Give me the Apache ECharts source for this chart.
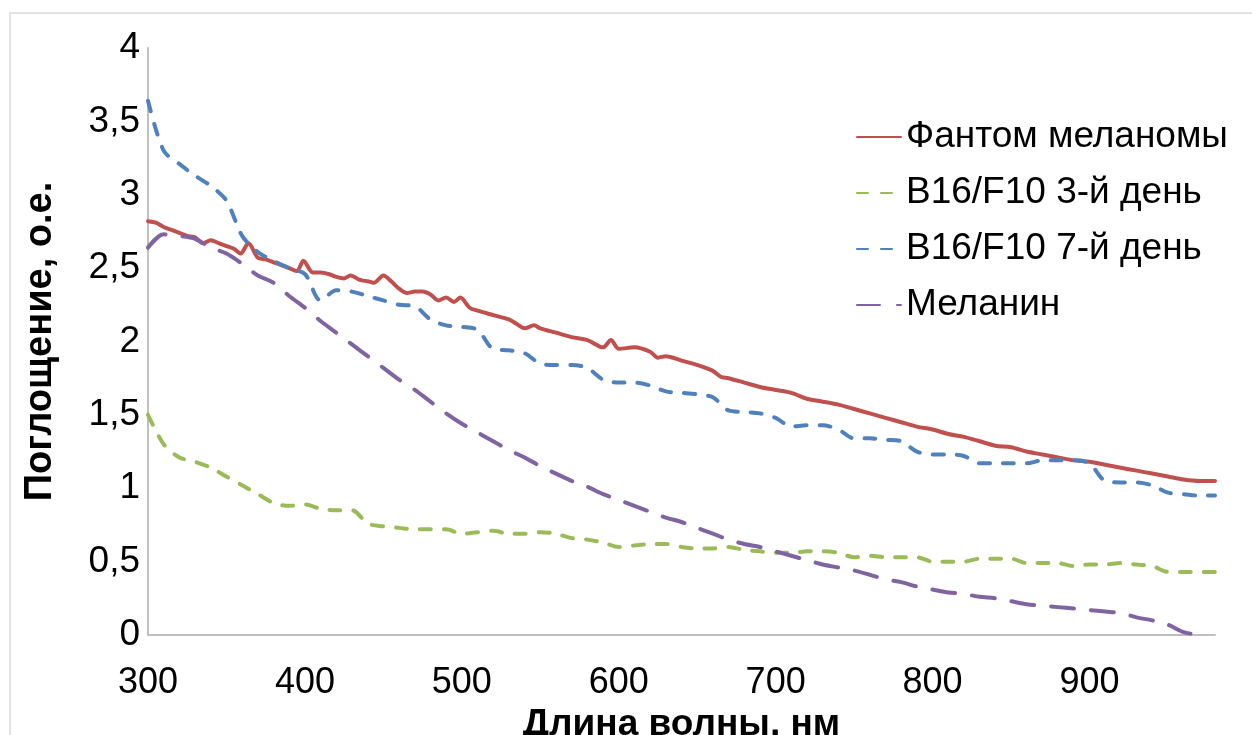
<!DOCTYPE html>
<html>
<head>
<meta charset="utf-8">
<script src="https://cdn.jsdelivr.net/npm/echarts@6/dist/echarts.min.js"></script>
<style>
html,body{margin:0;padding:0;background:#fff;}
#chart{width:1252px;height:735px;}
</style>
</head>
<body>
<div id="chart"></div>
<script>
// ---- data ----
const seriesNames = ['Фантом меланомы', 'B16/F10 3-й день', 'B16/F10 7-й день', 'Меланин'];
const xTicks = [300, 400, 500, 600, 700, 800, 900];

const redWavelengths = [300,305,310,315,320,325,330,335,340,345,350,355,359,364,370,375,380,385,390,395,399,405,410,415,420,425,429,435,440,444,450,455,460,465,470,475,480,485,490,495,499,505,510,520,530,535,540,546,550,560,570,580,590,595,600,610,620,625,630,640,650,660,665,670,680,690,700,710,720,730,740,750,760,770,780,790,800,810,820,830,840,850,860,870,880,890,900,910,920,930,940,950,960,970,980];
const phantom = [2.82,2.81,2.78,2.76,2.74,2.72,2.71,2.67,2.69,2.67,2.65,2.63,2.60,2.67,2.57,2.56,2.54,2.52,2.50,2.48,2.55,2.47,2.47,2.46,2.44,2.43,2.45,2.42,2.41,2.40,2.45,2.41,2.36,2.33,2.34,2.34,2.32,2.28,2.30,2.27,2.30,2.23,2.21,2.18,2.15,2.12,2.09,2.11,2.09,2.06,2.03,2.01,1.96,2.01,1.95,1.96,1.93,1.89,1.90,1.87,1.84,1.80,1.76,1.75,1.72,1.69,1.67,1.65,1.61,1.59,1.57,1.54,1.51,1.48,1.45,1.42,1.40,1.37,1.35,1.32,1.29,1.28,1.25,1.23,1.21,1.19,1.18,1.16,1.14,1.12,1.10,1.08,1.06,1.05,1.05];

const wavelengths = [300,310,320,330,340,350,360,370,380,390,400,410,420,430,440,450,460,470,480,490,500,510,520,530,540,550,560,570,580,590,600,610,620,630,640,650,660,670,680,690,700,710,720,730,740,750,760,770,780,790,800,810,820,830,840,850,860,870,880,890,900,910,920,930,940,950,960,970,980];
const day3 = [1.50,1.30,1.21,1.18,1.14,1.08,1.02,0.96,0.90,0.88,
              0.89,0.86,0.85,0.85,0.76,0.74,0.73,0.72,0.72,0.72,
              0.69,0.70,0.71,0.69,0.69,0.70,0.69,0.66,0.65,0.63,
              0.60,0.61,0.62,0.62,0.60,0.59,0.59,0.60,0.58,0.57,
              0.56,0.56,0.57,0.57,0.56,0.53,0.54,0.53,0.53,0.53,
              0.50,0.50,0.50,0.52,0.52,0.52,0.49,0.49,0.49,0.47,
              0.48,0.48,0.49,0.48,0.47,0.43,0.43,0.43,0.43];
const day7 = [3.64,3.30,3.21,3.13,3.06,2.96,2.72,2.61,2.55,2.50,
              2.46,2.28,2.35,2.34,2.31,2.28,2.25,2.24,2.15,2.11,
              2.10,2.08,1.95,1.94,1.92,1.85,1.84,1.84,1.82,1.74,
              1.72,1.72,1.70,1.66,1.65,1.64,1.62,1.53,1.52,1.51,
              1.48,1.42,1.43,1.43,1.40,1.34,1.34,1.33,1.32,1.25,
              1.23,1.23,1.22,1.17,1.17,1.17,1.17,1.19,1.19,1.19,
              1.17,1.05,1.04,1.04,1.02,0.97,0.96,0.95,0.95];
const melanin = [2.64,2.73,2.72,2.70,2.64,2.60,2.53,2.45,2.40,2.31,
                 2.23,2.14,2.06,1.98,1.90,1.82,1.74,1.67,1.59,1.51,
                 1.44,1.38,1.32,1.26,1.21,1.15,1.10,1.05,1.01,0.96,
                 0.92,0.88,0.84,0.80,0.77,0.73,0.69,0.65,0.62,0.60,
                 0.57,0.54,0.51,0.48,0.46,0.44,0.41,0.38,0.36,0.33,
                 0.31,0.29,0.28,0.26,0.25,0.23,0.21,0.20,0.19,0.18,
                 0.17,0.16,0.15,0.12,0.10,0.07,0.02,0.00,null];

const colors = ['#C0504D', '#9BBB59', '#4F81BD', '#8064A2'];
// ---- chart ----
const FONT = "'Liberation Sans', Arial, sans-serif";
const pairs = (xs, ys) => xs.map((x, i) => [x, ys[i]]).filter(p => p[1] !== null);

const chart = echarts.init(document.getElementById('chart'), null, {renderer: 'canvas'});
const mk = (name, xs, ys, color, dash) => ({
  name, type: 'line', data: pairs(xs, ys), showSymbol: false, symbol: 'none', smooth: 0.3,
  lineStyle: {color, width: 4, type: dash, cap: 'round', join: 'round'},
  itemStyle: {color}
});

chart.setOption({
  animation: false,
  backgroundColor: '#fff',
  color: colors,
  grid: {left: 148, right: 37, top: 48, bottom: 100, containLabel: false, outerBoundsMode: 'none'},
  graphic: [{type: 'rect', shape: {x: 10, y: 13, width: 1300, height: 800},
             style: {fill: 'none', stroke: '#D9D9D9', lineWidth: 1.5}, silent: true}],
  xAxis: {
    type: 'value', min: 300, max: 980, interval: 100,
    name: 'Длина волны, нм', nameLocation: 'middle', nameGap: 62,
    nameTextStyle: {fontFamily: FONT, fontSize: 37, fontWeight: 'bold', color: '#000'},
    axisLine: {show: true, lineStyle: {color: '#BFBFBF', width: 2}},
    axisTick: {show: false}, splitLine: {show: false},
    axisLabel: {fontFamily: FONT, fontSize: 36, color: '#000', margin: 30, showMaxLabel: false}
  },
  yAxis: {
    type: 'value', min: 0, max: 4, interval: 0.5,
    name: 'Поглощение, о.е.', nameLocation: 'middle', nameGap: 88, nameRotate: 90,
    nameTextStyle: {fontFamily: FONT, fontSize: 38, fontWeight: 'bold', color: '#000'},
    axisLine: {show: true, lineStyle: {color: '#BFBFBF', width: 2}},
    axisTick: {show: false}, splitLine: {show: false},
    axisLabel: {fontFamily: FONT, fontSize: 37, color: '#000', margin: 8,
                formatter: v => String(v).replace('.', ',')}
  },
  legend: {
    orient: 'vertical', left: 856, top: 117, padding: 0,
    itemWidth: 44, itemHeight: 14, itemGap: 16,
    itemStyle: {opacity: 0},
    textStyle: {fontFamily: FONT, fontSize: 37, color: '#000', lineHeight: 40},
    data: seriesNames
  },
  series: [
    mk(seriesNames[0], redWavelengths, phantom, colors[0], 'solid'),
    mk(seriesNames[1], wavelengths, day3, colors[1], [11, 13]),
    mk(seriesNames[2], wavelengths, day7, colors[2], [11, 13]),
    mk(seriesNames[3], wavelengths, melanin, colors[3], [23, 17])
  ]
});
</script>
</body>
</html>
